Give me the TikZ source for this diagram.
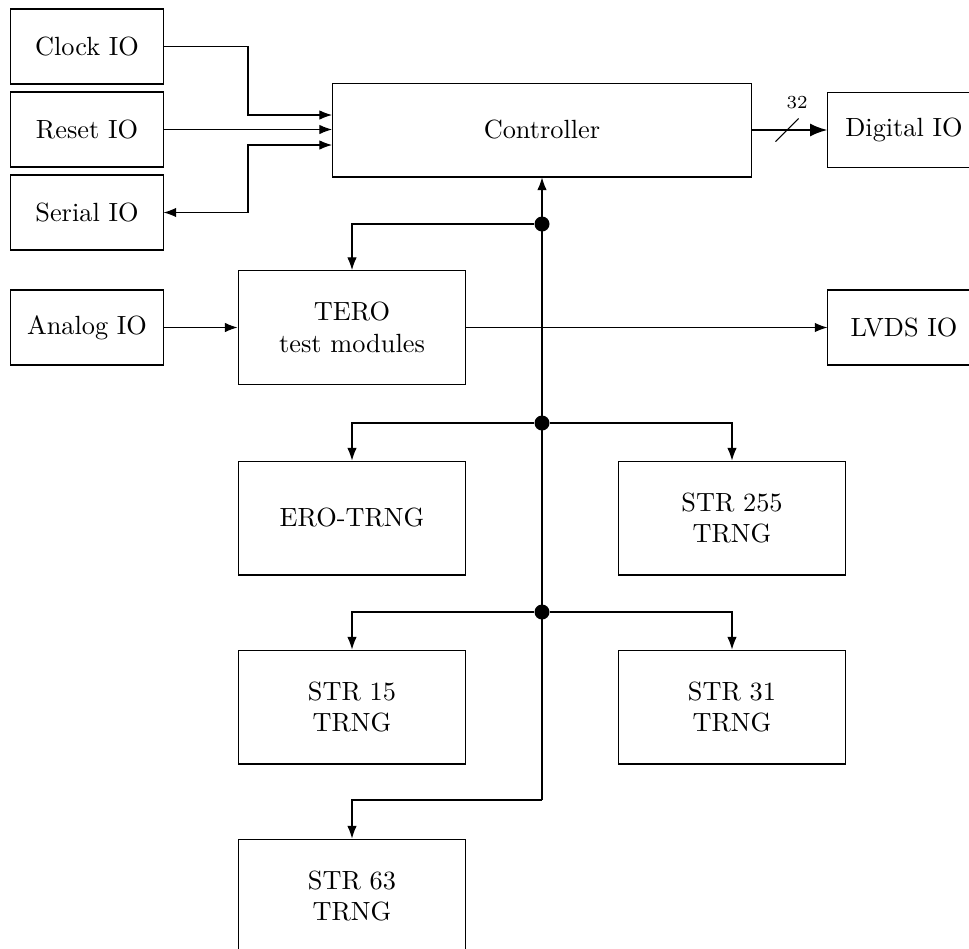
\documentclass[tikz,border=0pt]{standalone}
\usepackage{tikz}
\usetikzlibrary{arrows.meta, positioning, calc}
\tikzset{
  iobox/.style={rectangle, draw, minimum width=57.8pt, minimum height=28.5pt,
                align=center, inner sep=2pt},
  trngbox/.style={rectangle, draw, minimum width=86.6pt, minimum height=43.3pt,
                  align=center},
  ctrlbox/.style={rectangle, draw, minimum width=159.2pt, minimum height=35.7pt,
                  align=center},
  busdot/.style={circle, fill, inner sep=0pt, minimum size=5.7pt},
  arrow/.style={-{Latex}},
  busarrow/.style={-{Latex}, thick},
}

\begin{document}
\begin{tikzpicture}[x=0.38pt, y=-0.38pt]
  \path[use as bounding box, clip] (0,0) rectangle (969,948);

  % IO blocks on the left
  \node (clock) [iobox] at (87,46.5) {Clock IO};
  \node (reset) [iobox] at (87,129.5) {Reset IO};
  \node (serial) [iobox] at (87,212.5) {Serial IO};
  \node (analog) [iobox] at (87,327.5) {Analog IO};

  \node (ctrl) [ctrlbox] at (542,130) {Controller};
  \node (digital) [iobox] at (904,130) {Digital IO};
  \node (tero) [trngbox] at (352,327.5) {TERO\\test modules};
  \node (lvds) [iobox] at (904,327.5) {LVDS IO};

  \node (ero) [trngbox] at (352,518) {ERO-TRNG};
  \node (str255) [trngbox] at (732,518) {STR 255\\TRNG};
  \node (str15) [trngbox] at (352,707) {STR 15\\TRNG};
  \node (str31) [trngbox] at (732,707) {STR 31\\TRNG};
  \node (str63) [trngbox] at (352,896) {STR 63\\TRNG};

  % bus junctions
  \node (j1) [busdot] at (542,224) {};
  \node (j2) [busdot] at (542,423) {};
  \node (j3) [busdot] at (542,612) {};
  \coordinate (jend) at (542,800);
  \coordinate (kclk) at (248,115);
  \coordinate (kser) at (248,145);
  \coordinate (bw) at (787,130);

  \draw[arrow] (clock.east) -| (kclk) -- (kclk -| ctrl.west);
  \draw[arrow] (reset.east) -- (reset.east -| ctrl.west);
  \draw[{Latex}-{Latex}] (serial.east) -| (kser) -- (kser -| ctrl.west);

  \draw[busarrow] (ctrl.east) -- (digital.west);
  \draw ([shift={(-4.4pt,-4.4pt)}]bw) -- ([shift={(4.4pt,4.4pt)}]bw);
  \node (width) [font=\scriptsize] at ([shift={(3.8pt,10.3pt)}]bw) {32};

  \draw[arrow] (jend) -- (ctrl.south);
  \draw[arrow] (j1) -| (tero.north);
  \draw[arrow] (analog) -- (tero);
  \draw[arrow] (tero.east) -- (lvds.west);
  \draw[arrow] (j2) -| (ero.north);
  \draw[arrow] (j2) -| (str255.north);
  \draw[arrow] (j3) -| (str15.north);
  \draw[arrow] (j3) -| (str31.north);
  \draw[arrow] (jend) -| (str63.north);
\end{tikzpicture}
\end{document}
